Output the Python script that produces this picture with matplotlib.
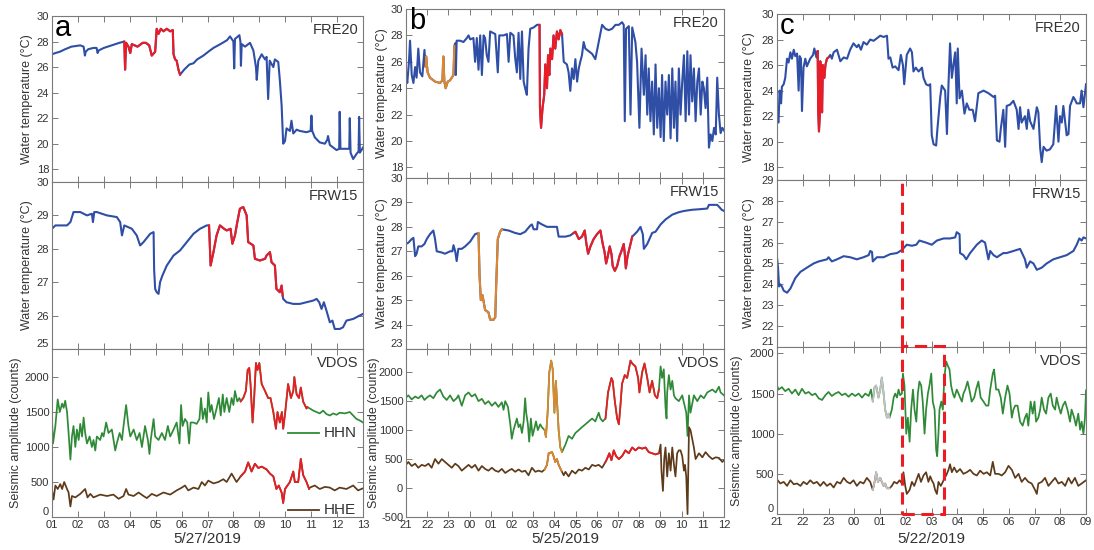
import matplotlib
matplotlib.use("Agg")
import matplotlib.pyplot as plt
import numpy as np
from matplotlib.patches import Rectangle

plt.rcParams['font.family'] = ['Liberation Sans', 'DejaVu Sans']

# ---------------- DATA ----------------
# Column a: hours of 5/27/2019
A_HOUR_LABELS = ["01", "02", "03", "04", "05", "06", "07", "08", "09", "10", "11", "12", "13"]
A_FRE20 = [(1.00, 27.0), (1.13, 27.1), (1.30, 27.2), (1.51, 27.4), (1.75, 27.6), (2.09, 27.7), (2.22, 27.6),
           (2.27, 26.9), (2.30, 27.2), (2.40, 27.4), (2.60, 27.5), (2.72, 27.5), (2.76, 27.1), (2.80, 27.3),
           (3.00, 27.5), (3.30, 27.7), (3.60, 27.9), (3.79, 28.0),
           (3.82, 25.8), (3.86, 27.9), (3.95, 27.6), (4.02, 27.1), (4.08, 27.8), (4.30, 27.6), (4.50, 27.9),
           (4.62, 27.9), (4.75, 27.7), (4.85, 26.9), (4.98, 27.2), (5.04, 29.0), (5.11, 28.6), (5.20, 29.0),
           (5.30, 28.8), (5.43, 29.0), (5.56, 28.8), (5.66, 28.9), (5.69, 27.0), (5.75, 26.6), (5.81, 26.5),
           (5.88, 25.8), (5.94, 25.4),
           (6.10, 25.8), (6.30, 26.2), (6.46, 26.3), (6.60, 26.6), (6.84, 26.9), (7.03, 27.2), (7.23, 27.5),
           (7.50, 27.8), (7.75, 28.1), (7.87, 28.4), (8.00, 28.0), (8.03, 25.9), (8.06, 28.2), (8.23, 28.5),
           (8.27, 28.0), (8.29, 26.1), (8.32, 27.8), (8.45, 27.6), (8.64, 27.9), (8.77, 27.3), (8.87, 26.0),
           (8.90, 25.0), (8.96, 26.5), (9.09, 27.0), (9.22, 26.6), (9.28, 26.8), (9.34, 23.5), (9.40, 26.5),
           (9.54, 26.0), (9.60, 26.6), (9.73, 26.4), (9.79, 25.0), (9.86, 23.0), (9.92, 20.0), (9.99, 20.2),
           (10.05, 21.2), (10.18, 21.0), (10.24, 21.8), (10.31, 20.8), (10.44, 21.1), (10.56, 21.0),
           (10.82, 20.9), (10.98, 21.0), (11.01, 22.2), (11.04, 21.0), (11.14, 20.5), (11.33, 20.1),
           (11.53, 20.0), (11.62, 20.3), (11.65, 20.6), (11.72, 19.9), (11.98, 19.5), (12.08, 19.6),
           (12.10, 22.5), (12.13, 19.6), (12.36, 19.6), (12.47, 19.6), (12.49, 22.0), (12.52, 19.3),
           (12.62, 18.8), (12.75, 19.2), (12.83, 19.4), (12.85, 22.1), (12.88, 19.3), (13.00, 19.7)]
A_FRE20_EVENTS = [(3.79, 5.94, "event")]

A_FRW15 = [(1.00, 28.6), (1.13, 28.7), (1.58, 28.7), (1.71, 28.8), (1.83, 29.1), (2.09, 29.1), (2.35, 29.0),
           (2.54, 29.05), (2.58, 28.8), (2.63, 29.1), (2.73, 29.1), (3.12, 29.0), (3.50, 28.95), (3.63, 28.8),
           (3.70, 28.4), (3.79, 28.7), (4.08, 28.6), (4.27, 28.4), (4.40, 28.1), (4.53, 28.2), (4.79, 28.45),
           (4.92, 28.5), (4.94, 27.4), (4.98, 26.8), (5.04, 26.7), (5.11, 26.65), (5.17, 27.0), (5.26, 27.2),
           (5.43, 27.5), (5.69, 27.8), (5.94, 27.95), (6.20, 28.2), (6.46, 28.45), (6.71, 28.6), (6.97, 28.7),
           (7.06, 28.7),
           (7.12, 27.5), (7.23, 27.9), (7.35, 28.4), (7.48, 28.7), (7.64, 28.6), (7.74, 28.55), (7.89, 28.6),
           (7.96, 28.15), (8.06, 28.4), (8.15, 28.8), (8.25, 29.2), (8.38, 29.25), (8.51, 29.0), (8.57, 28.2),
           (8.77, 28.1), (8.83, 27.7), (9.02, 27.65), (9.22, 27.7), (9.28, 27.8), (9.41, 27.9), (9.47, 27.6),
           (9.60, 27.5), (9.66, 26.8), (9.79, 26.7), (9.86, 26.9), (9.90, 26.6),
           (9.92, 26.5), (10.05, 26.4), (10.31, 26.35), (10.56, 26.35), (10.82, 26.4), (11.08, 26.45),
           (11.21, 26.5), (11.31, 26.4), (11.40, 26.2), (11.49, 26.4), (11.59, 26.15), (11.72, 25.8),
           (11.82, 25.85), (11.91, 25.6), (12.10, 25.6), (12.23, 25.65), (12.36, 25.85), (12.62, 25.9),
           (12.87, 26.0), (13.00, 26.05)]
A_FRW15_EVENTS = [(7.06, 9.90, "event")]

A_HHN = [(1.00, 1380), (1.04, 1050), (1.13, 1300), (1.22, 1680), (1.30, 1500), (1.39, 1620), (1.45, 1560),
         (1.51, 1660), (1.58, 1500), (1.64, 1200), (1.71, 820), (1.77, 1150), (1.83, 1300), (1.90, 1000),
         (1.96, 1250), (2.03, 1100), (2.09, 1330), (2.16, 1150), (2.22, 1420), (2.28, 1200), (2.35, 1050),
         (2.45, 1150), (2.54, 1000), (2.60, 1100), (2.67, 950), (2.73, 1150), (2.86, 1100), (2.93, 1200),
         (2.99, 1150), (3.09, 1350), (3.18, 1200), (3.31, 1250), (3.44, 950), (3.50, 1050), (3.61, 1200),
         (3.70, 1100), (3.76, 1300), (3.86, 1600), (3.95, 1300), (4.02, 1150), (4.15, 1250), (4.27, 1100),
         (4.38, 1200), (4.47, 1000), (4.59, 1300), (4.70, 1100), (4.76, 900), (4.81, 1100), (4.92, 1400),
         (4.98, 1150), (5.11, 1100), (5.24, 1200), (5.36, 1100), (5.47, 1300), (5.56, 1150), (5.69, 1250),
         (5.81, 1350), (5.92, 1050), (5.98, 1600), (6.04, 1300), (6.13, 1400), (6.22, 1350), (6.29, 1050),
         (6.35, 1350), (6.46, 1350), (6.58, 1330), (6.69, 1400), (6.75, 1700), (6.82, 1400), (6.90, 1550),
         (6.97, 1350), (7.03, 1780), (7.10, 1500), (7.16, 1600), (7.25, 1400), (7.35, 1550), (7.44, 1700),
         (7.51, 1450), (7.59, 1750), (7.65, 1500), (7.74, 1700), (7.84, 1500), (7.93, 1700), (8.00, 1600),
         (8.06, 1800), (8.15, 1650), (8.23, 1700), (8.28, 1650),
         (8.38, 1700), (8.48, 1800), (8.55, 2100), (8.61, 2130), (8.66, 1900), (8.74, 1350), (8.80, 1700),
         (8.87, 2200), (8.93, 2100), (9.00, 2200), (9.09, 1900), (9.22, 1800), (9.34, 1700), (9.43, 1700),
         (9.54, 1500), (9.64, 1260), (9.70, 1500), (9.79, 1350), (9.87, 1500), (9.92, 1260), (10.00, 1500),
         (10.11, 1900), (10.22, 1700), (10.31, 1800), (10.35, 2000), (10.44, 1750), (10.53, 1700),
         (10.60, 1850), (10.69, 1650), (10.82, 1550), (10.85, 1570),
         (10.95, 1550), (11.08, 1520), (11.21, 1500), (11.33, 1480), (11.46, 1520), (11.59, 1470),
         (11.72, 1450), (11.85, 1480), (11.98, 1460), (12.10, 1490), (12.30, 1480), (12.49, 1500),
         (12.62, 1450), (12.75, 1400), (12.87, 1380), (13.00, 1350)]
A_HHN_EVENTS = [(8.28, 10.85, "event")]

A_HHE = [(1.00, 380), (1.06, 250), (1.13, 450), (1.22, 400), (1.32, 470), (1.39, 400), (1.47, 500), (1.58, 400),
         (1.64, 350), (1.71, 150), (1.77, 300), (1.90, 280), (2.09, 330), (2.28, 400), (2.37, 280), (2.48, 330),
         (2.60, 280), (2.86, 320), (3.12, 300), (3.37, 320), (3.57, 260), (3.76, 300), (3.86, 400), (3.95, 320),
         (4.15, 300), (4.34, 350), (4.53, 300), (4.66, 270), (4.85, 330), (5.04, 300), (5.30, 350), (5.56, 320),
         (5.81, 380), (6.01, 420), (6.13, 450), (6.26, 380), (6.46, 420), (6.65, 400), (6.78, 500), (6.90, 450),
         (7.03, 520), (7.23, 480), (7.42, 500), (7.61, 540), (7.74, 500), (7.93, 620), (8.12, 500), (8.28, 580),
         (8.45, 650), (8.57, 780), (8.70, 650), (8.83, 760), (8.96, 700), (9.09, 720), (9.28, 680), (9.41, 620),
         (9.54, 580), (9.66, 400), (9.75, 450), (9.86, 350), (9.92, 200), (9.99, 400), (10.18, 500),
         (10.31, 650), (10.37, 500), (10.50, 500), (10.60, 830), (10.69, 600), (10.82, 500), (10.92, 400),
         (10.95, 420), (11.14, 450), (11.33, 400), (11.53, 430), (11.72, 420), (11.91, 380), (12.10, 420),
         (12.36, 400), (12.62, 450), (12.81, 380), (13.00, 410)]
A_HHE_EVENTS = [(8.28, 10.92, "event")]

# Column b: hours after 21:00 on 5/24/2019
B_HOUR_LABELS = ["21", "22", "23", "00", "01", "02", "03", "04", "05", "06", "07", "08", "09", "10", "11", "12"]
B_FRE20 = [(0.00, 25.0), (0.06, 24.4), (0.14, 26.0), (0.19, 27.6), (0.27, 25.0), (0.35, 24.4), (0.43, 25.6),
           (0.50, 24.8), (0.58, 27.0), (0.66, 25.2), (0.77, 24.9), (0.87, 26.9), (0.93, 25.6),
           (0.95, 26.4), (1.02, 25.2), (1.13, 24.8), (1.37, 24.5), (1.61, 24.4), (1.72, 24.6), (1.76, 26.4),
           (1.81, 24.5), (1.87, 24.0), (1.97, 24.5), (2.08, 24.6), (2.24, 25.0), (2.28, 27.2),
           (2.32, 27.4), (2.35, 25.0), (2.39, 27.6), (2.55, 27.6), (2.71, 27.5), (2.87, 27.8), (2.95, 28.0),
           (3.03, 27.7), (3.18, 27.8), (3.26, 26.0), (3.34, 27.8), (3.42, 25.4), (3.50, 28.0), (3.58, 25.0),
           (3.66, 28.0), (3.73, 27.8), (3.81, 26.5), (3.89, 26.0), (3.97, 28.3), (4.21, 28.1), (4.33, 25.2),
           (4.40, 28.0), (4.60, 28.0), (4.76, 28.1), (4.84, 26.0), (4.92, 28.2), (5.07, 28.0), (5.15, 26.3),
           (5.23, 25.2), (5.31, 28.2), (5.39, 24.7), (5.47, 28.3), (5.55, 24.5), (5.62, 24.0), (5.70, 23.5),
           (5.78, 27.0), (5.86, 28.5), (6.02, 28.6), (6.18, 28.8), (6.30, 28.8),
           (6.32, 22.5), (6.37, 21.0), (6.44, 22.5), (6.52, 23.5), (6.57, 25.8), (6.65, 24.0), (6.70, 26.5),
           (6.76, 25.0), (6.81, 27.0), (6.89, 26.2), (6.96, 28.0), (7.04, 27.0), (7.12, 28.3), (7.20, 27.7),
           (7.28, 28.4), (7.36, 28.1),
           (7.44, 26.0), (7.59, 25.8), (7.67, 25.2), (7.75, 23.8), (7.83, 25.5), (7.91, 24.7), (7.99, 26.2),
           (8.07, 24.5), (8.15, 25.5), (8.22, 26.0), (8.30, 26.5), (8.38, 27.5), (8.46, 27.0), (8.62, 26.8),
           (8.78, 26.6), (8.93, 26.2), (9.09, 27.5), (9.25, 28.8), (9.41, 28.5), (9.56, 28.4), (9.72, 28.5),
           (9.88, 28.8), (10.04, 28.8), (10.19, 29.0), (10.27, 28.8), (10.32, 21.5), (10.38, 28.5),
           (10.51, 28.7), (10.59, 22.0), (10.67, 28.6), (10.82, 27.5), (10.90, 26.0), (11.01, 21.0),
           (11.11, 27.0), (11.22, 23.5), (11.30, 26.5), (11.38, 22.0), (11.45, 25.5), (11.53, 21.5),
           (11.61, 24.5), (11.69, 20.5), (11.77, 25.8), (11.85, 21.0), (11.93, 24.0), (12.01, 20.3),
           (12.08, 25.0), (12.16, 20.0), (12.24, 24.5), (12.32, 22.0), (12.40, 25.0), (12.48, 20.2),
           (12.56, 25.5), (12.64, 21.0), (12.71, 24.5), (12.79, 20.0), (12.87, 25.5), (12.95, 22.0),
           (13.03, 24.5), (13.11, 26.5), (13.19, 21.5), (13.27, 26.8), (13.35, 22.0), (13.42, 26.5),
           (13.50, 23.0), (13.58, 25.5), (13.66, 21.5), (13.74, 24.5), (13.82, 25.5), (13.90, 22.0),
           (13.98, 24.5), (14.05, 24.0), (14.13, 22.5), (14.21, 24.8), (14.29, 19.5), (14.37, 20.5),
           (14.45, 20.0), (14.53, 21.0), (14.61, 20.5), (14.68, 24.8), (14.76, 22.0), (14.84, 20.6),
           (14.92, 21.0), (15.00, 20.8)]
B_FRE20_EVENTS = [(0.93, 2.28, "event2"), (6.30, 7.36, "event")]

B_FRW15 = [(0.00, 27.3), (0.11, 27.35), (0.27, 27.5), (0.35, 27.55), (0.43, 26.8), (0.50, 26.9), (0.58, 27.2),
           (0.74, 27.2), (0.87, 27.3), (0.98, 27.5), (1.13, 27.7), (1.29, 27.85), (1.37, 27.5), (1.45, 27.0),
           (1.69, 26.95), (1.84, 26.9), (2.08, 27.0), (2.19, 27.0), (2.24, 27.25), (2.32, 27.0), (2.39, 26.6),
           (2.47, 27.1), (2.63, 27.1), (2.79, 27.2), (3.03, 27.4), (3.18, 27.6), (3.26, 27.7), (3.42, 27.75),
           (3.47, 26.0), (3.53, 25.0), (3.61, 25.2), (3.67, 24.9), (3.73, 24.6), (3.89, 24.5), (3.97, 24.2),
           (4.13, 24.2), (4.21, 24.3), (4.25, 25.5), (4.33, 27.5), (4.44, 27.8), (4.52, 27.9),
           (4.84, 27.85), (5.15, 27.75), (5.39, 27.7), (5.62, 27.8), (5.86, 28.05), (5.94, 28.1), (6.02, 27.9),
           (6.18, 27.9), (6.22, 28.2), (6.41, 28.1), (6.65, 28.0), (7.12, 28.0), (7.20, 27.6), (7.52, 27.6),
           (7.75, 27.65), (7.91, 27.75),
           (7.99, 27.8), (8.15, 27.5), (8.30, 27.6), (8.43, 27.85), (8.51, 27.3), (8.59, 26.9), (8.70, 27.2),
           (8.85, 27.5), (9.01, 27.7), (9.17, 27.85), (9.28, 27.3), (9.36, 27.0), (9.44, 26.5), (9.52, 26.8),
           (9.61, 27.2), (9.69, 26.9), (9.75, 26.4), (9.85, 26.2), (9.96, 26.4), (10.07, 26.8), (10.16, 27.0),
           (10.27, 27.3), (10.32, 26.9), (10.37, 26.3), (10.45, 26.8), (10.59, 27.3), (10.67, 27.6),
           (10.90, 27.8), (11.06, 28.0), (11.17, 27.7), (11.22, 27.1), (11.38, 27.3), (11.61, 27.75),
           (11.77, 27.8), (12.01, 28.1), (12.24, 28.3), (12.56, 28.5), (12.87, 28.6), (13.11, 28.65),
           (13.50, 28.7), (13.82, 28.72), (14.21, 28.75), (14.29, 28.9), (14.68, 28.9), (14.79, 28.8),
           (14.89, 28.7), (15.00, 28.65)]
B_FRW15_EVENTS = [(3.42, 4.52, "event2"), (7.91, 10.67, "event")]

B_HHN = [(0.00, 1560), (0.11, 1600), (0.27, 1530), (0.43, 1580), (0.58, 1550), (0.74, 1600), (0.87, 1520),
         (0.98, 1560), (1.13, 1600), (1.29, 1550), (1.45, 1650), (1.61, 1700), (1.76, 1580), (1.92, 1520),
         (2.08, 1600), (2.24, 1500), (2.39, 1550), (2.47, 1600), (2.63, 1420), (2.79, 1600), (2.95, 1650),
         (3.10, 1580), (3.26, 1620), (3.42, 1500), (3.58, 1540), (3.73, 1450), (3.89, 1500), (4.05, 1420),
         (4.21, 1480), (4.36, 1400), (4.52, 1480), (4.60, 1350), (4.68, 1500), (4.81, 1400), (4.92, 1100),
         (4.99, 850), (5.07, 1000), (5.15, 1100), (5.23, 1200), (5.31, 1050), (5.39, 1100), (5.47, 950),
         (5.55, 1150), (5.62, 1550), (5.67, 1300), (5.75, 1100), (5.81, 800), (5.89, 1200), (5.97, 900),
         (6.07, 1050), (6.13, 1150), (6.22, 1000), (6.33, 1100), (6.41, 1050), (6.54, 1000),
         (6.60, 880), (6.68, 1300), (6.76, 2000), (6.85, 2200), (6.92, 2050), (7.00, 1300), (7.07, 1850),
         (7.14, 1400), (7.20, 1000), (7.28, 700), (7.36, 620),
         (7.52, 750), (7.67, 900), (7.83, 850), (7.99, 950), (8.15, 1000), (8.30, 1050), (8.46, 1100),
         (8.62, 1150), (8.78, 1200), (8.93, 1150), (9.09, 1300), (9.17, 1200), (9.28, 1150), (9.41, 1200),
         (9.53, 1650), (9.69, 1900), (9.75, 1850), (9.85, 1500), (9.96, 1200), (10.04, 1100), (10.11, 1400),
         (10.19, 1800), (10.32, 1950), (10.43, 1900), (10.59, 2200), (10.67, 2150), (10.82, 2100),
         (10.95, 1900), (11.01, 1650), (11.14, 2000), (11.25, 2150), (11.38, 1900), (11.49, 1650),
         (11.61, 1850), (11.74, 1600), (11.85, 1550), (11.93, 1700),
         (12.01, 2100), (12.08, 1900), (12.16, 2050), (12.24, 1400), (12.29, 1200), (12.32, 1650),
         (12.40, 1950), (12.48, 1700), (12.56, 1850), (12.64, 1600), (12.71, 1550), (12.87, 1500),
         (13.03, 1600), (13.16, 1400), (13.22, 1300), (13.28, 900), (13.35, 1600), (13.42, 1300),
         (13.58, 1600), (13.74, 1500), (13.90, 1600), (14.05, 1550), (14.21, 1650), (14.45, 1700),
         (14.61, 1650), (14.76, 1750), (14.84, 1650), (15.00, 1600)]
B_HHN_EVENTS = [(6.54, 7.36, "event2"), (9.41, 11.93, "event")]

B_HHE = [(0.00, 400), (0.11, 450), (0.27, 380), (0.43, 420), (0.58, 350), (0.74, 400), (0.90, 380), (1.06, 420),
         (1.21, 350), (1.37, 500), (1.53, 420), (1.69, 500), (1.84, 450), (2.00, 400), (2.16, 350), (2.32, 420),
         (2.47, 380), (2.63, 300), (2.79, 350), (2.95, 400), (3.10, 350), (3.26, 400), (3.42, 300), (3.58, 380),
         (3.73, 330), (3.89, 300), (4.05, 350), (4.21, 300), (4.36, 280), (4.52, 330), (4.68, 260), (4.84, 300),
         (4.99, 330), (5.15, 280), (5.31, 320), (5.47, 280), (5.62, 300), (5.78, 220), (5.94, 350), (6.10, 280),
         (6.25, 300), (6.41, 280), (6.54, 320),
         (6.65, 400), (6.73, 600), (6.89, 620), (6.96, 550), (7.04, 450), (7.12, 500), (7.20, 400), (7.33, 300),
         (7.44, 220), (7.52, 280), (7.67, 200), (7.83, 300), (7.99, 250), (8.15, 320), (8.30, 300), (8.46, 350),
         (8.62, 320), (8.78, 400), (8.93, 380), (9.09, 400), (9.25, 350), (9.41, 450),
         (9.48, 500), (9.59, 600), (9.69, 480), (9.80, 650), (9.91, 550), (10.04, 500), (10.19, 550),
         (10.35, 650), (10.51, 600), (10.67, 700), (10.82, 650), (10.98, 700), (11.14, 680), (11.30, 700),
         (11.45, 620), (11.61, 600), (11.77, 580), (11.93, 600),
         (12.01, 750), (12.05, 300), (12.12, -50), (12.18, 500), (12.24, 700), (12.32, 200), (12.40, 600),
         (12.48, 300), (12.56, 700), (12.64, 400), (12.71, 200), (12.79, 600), (12.87, 650), (12.95, 650),
         (13.03, 550), (13.11, 300), (13.16, 400), (13.22, 200), (13.28, -450), (13.35, 1050), (13.42, 1000),
         (13.58, 700), (13.66, 500), (13.82, 600), (13.98, 530), (14.13, 620), (14.29, 550), (14.45, 500),
         (14.61, 530), (14.76, 520), (14.92, 450), (15.00, 480)]
B_HHE_EVENTS = [(6.54, 7.33, "event2"), (9.41, 11.93, "event")]

# Column c: hours after 21:00 on 5/21/2019
C_HOUR_LABELS = ["21", "22", "23", "00", "01", "02", "03", "04", "05", "06", "07", "08", "09"]
C_FRE20 = [(0.00, 21.7), (0.06, 21.5), (0.10, 24.0), (0.16, 23.0), (0.19, 24.3), (0.26, 24.5), (0.32, 25.0),
           (0.39, 26.5), (0.45, 26.2), (0.52, 27.0), (0.58, 26.5), (0.65, 27.2), (0.71, 26.7), (0.78, 26.9),
           (0.84, 24.0), (0.88, 26.7), (0.93, 26.5), (0.97, 22.4), (1.03, 25.8), (1.10, 26.5), (1.16, 25.9),
           (1.29, 26.5), (1.40, 26.8), (1.45, 27.3), (1.53, 26.6), (1.58, 27.1),
           (1.60, 22.5), (1.63, 20.8), (1.66, 22.0), (1.68, 26.3), (1.72, 25.0), (1.75, 22.3), (1.78, 26.0),
           (1.84, 25.0), (1.88, 26.0), (1.94, 26.5), (2.00, 26.6),
           (2.07, 26.8), (2.13, 26.5), (2.20, 27.0), (2.33, 27.2), (2.46, 26.3), (2.59, 26.6), (2.72, 26.5),
           (2.84, 27.2), (2.97, 27.7), (3.10, 27.4), (3.17, 27.6), (3.26, 27.2), (3.36, 27.8), (3.49, 27.6),
           (3.62, 28.0), (3.75, 27.9), (3.88, 28.1), (4.01, 28.3), (4.14, 28.2), (4.27, 28.3), (4.33, 26.5),
           (4.40, 26.6), (4.49, 25.8), (4.59, 25.9), (4.72, 25.6), (4.81, 26.8), (4.89, 26.0), (4.94, 24.5),
           (5.04, 26.8), (5.17, 27.3), (5.24, 27.0), (5.30, 25.5), (5.39, 25.8), (5.50, 25.5), (5.63, 25.8),
           (5.69, 25.0), (5.79, 24.5), (5.88, 24.4), (5.95, 24.5), (6.01, 20.5), (6.08, 19.8), (6.18, 19.7),
           (6.23, 21.0), (6.34, 23.5), (6.40, 24.4), (6.53, 24.0), (6.60, 20.6), (6.66, 24.5), (6.72, 27.7),
           (6.79, 25.0), (6.85, 26.0), (6.92, 27.0), (6.98, 23.0), (7.02, 27.3), (7.09, 23.4), (7.18, 24.0),
           (7.28, 22.2), (7.37, 23.0), (7.47, 22.5), (7.60, 22.5), (7.69, 21.6), (7.82, 23.8), (8.02, 24.0),
           (8.21, 23.8), (8.41, 23.5), (8.47, 23.6), (8.54, 20.1), (8.64, 20.0), (8.69, 21.0), (8.79, 22.5),
           (8.86, 19.6), (8.92, 22.8), (9.05, 22.9), (9.18, 23.2), (9.31, 22.5), (9.38, 21.0), (9.44, 22.7),
           (9.50, 21.5), (9.63, 22.0), (9.70, 21.0), (9.76, 22.5), (9.83, 21.6), (9.96, 21.0), (10.09, 22.7),
           (10.15, 22.3), (10.22, 19.5), (10.28, 18.4), (10.35, 19.6), (10.47, 19.3), (10.60, 19.4),
           (10.73, 19.8), (10.84, 22.8), (10.93, 20.0), (10.99, 22.0), (11.06, 21.5), (11.12, 22.8),
           (11.25, 20.5), (11.32, 20.6), (11.38, 22.8), (11.51, 23.5), (11.57, 23.3), (11.64, 23.0),
           (11.77, 23.0), (11.83, 24.0), (11.90, 22.7), (12.00, 24.5)]
C_FRE20_EVENTS = [(1.58, 2.00, "event")]

C_FRW15 = [(0.00, 25.3), (0.04, 24.8), (0.08, 23.9), (0.13, 24.0), (0.19, 23.9), (0.26, 23.7), (0.39, 23.6),
           (0.52, 23.8), (0.71, 24.3), (0.91, 24.6), (1.16, 24.8), (1.42, 25.0), (1.62, 25.1), (1.94, 25.2),
           (2.00, 25.3), (2.13, 25.1), (2.33, 25.2), (2.59, 25.35), (2.84, 25.3), (3.10, 25.2), (3.36, 25.3),
           (3.56, 25.4), (3.62, 25.6), (3.69, 25.55), (3.72, 25.1), (3.88, 25.3), (4.14, 25.3), (4.40, 25.45),
           (4.66, 25.5), (4.85, 25.65), (5.04, 25.9), (5.24, 25.85), (5.41, 25.9), (5.53, 26.1), (5.79, 26.0),
           (6.01, 25.9), (6.21, 26.1), (6.47, 26.2), (6.72, 26.2), (6.92, 26.25), (6.98, 26.5), (7.09, 26.4),
           (7.11, 25.5), (7.24, 25.4), (7.35, 25.2), (7.50, 25.5), (7.76, 25.9), (7.95, 26.1), (8.08, 26.0),
           (8.21, 25.2), (8.28, 25.6), (8.41, 25.4), (8.54, 25.3), (8.66, 25.4), (8.79, 25.5), (8.92, 25.5),
           (9.18, 25.6), (9.44, 25.7), (9.63, 25.2), (9.70, 24.8), (9.83, 25.1), (9.96, 25.0), (10.09, 24.7),
           (10.28, 24.8), (10.47, 25.0), (10.73, 25.2), (10.99, 25.3), (11.25, 25.4), (11.51, 25.6),
           (11.64, 25.9), (11.74, 26.2), (11.83, 26.1), (11.90, 26.25), (12.00, 26.2)]
C_FRW15_EVENTS = []

C_HHN = [(0.00, 1600), (0.06, 1550), (0.19, 1580), (0.32, 1530), (0.45, 1560), (0.58, 1500), (0.71, 1550),
         (0.84, 1480), (0.97, 1560), (1.10, 1500), (1.23, 1520), (1.36, 1480), (1.49, 1500), (1.62, 1440),
         (1.75, 1420), (1.88, 1480), (2.00, 1520), (2.13, 1470), (2.26, 1500), (2.39, 1520), (2.52, 1480),
         (2.65, 1500), (2.78, 1460), (2.91, 1500), (3.04, 1470), (3.17, 1500), (3.30, 1450), (3.43, 1500),
         (3.56, 1470), (3.65, 1550), (3.72, 1400),
         (3.79, 1580), (3.85, 1600), (3.94, 1450), (4.01, 1550), (4.07, 1700), (4.14, 1500), (4.20, 1300),
         (4.27, 1200), (4.33, 1250), (4.37, 1200),
         (4.46, 1300), (4.53, 1450), (4.59, 1500), (4.66, 1450), (4.72, 1550), (4.78, 1480), (4.85, 1500),
         (4.89, 1750), (4.95, 1600), (5.02, 1000), (5.08, 1200), (5.15, 900), (5.21, 1300), (5.28, 1550),
         (5.34, 1300), (5.41, 1150), (5.47, 1500), (5.53, 1650), (5.60, 1600), (5.66, 1400), (5.73, 1000),
         (5.79, 1300), (5.86, 1500), (5.92, 1600), (5.99, 1750), (6.05, 1400), (6.12, 1300), (6.18, 800),
         (6.22, 720), (6.27, 1000), (6.31, 1300), (6.38, 1400), (6.44, 1300), (6.50, 1700), (6.57, 1900),
         (6.63, 1850), (6.70, 1800), (6.76, 1600), (6.83, 1500), (6.89, 1450), (6.98, 1550), (7.05, 1500),
         (7.11, 1450), (7.18, 1400), (7.24, 1500), (7.31, 1550), (7.40, 1650), (7.47, 1550), (7.56, 1400),
         (7.66, 1450), (7.73, 1550), (7.82, 1650), (7.91, 1450), (8.02, 1400), (8.12, 1350), (8.21, 1350),
         (8.28, 1550), (8.38, 1750), (8.43, 1800), (8.51, 1550), (8.60, 1550), (8.69, 1450), (8.77, 1250),
         (8.86, 1450), (8.95, 1600), (9.03, 1500), (9.12, 1200), (9.18, 1300), (9.25, 1350), (9.34, 1350),
         (9.44, 1150), (9.54, 1100), (9.63, 1200), (9.70, 1250), (9.76, 1100), (9.85, 1400), (9.93, 1250),
         (10.00, 1400), (10.06, 1150), (10.15, 1200), (10.22, 1300), (10.28, 1450), (10.37, 1300),
         (10.45, 1250), (10.54, 1450), (10.63, 1500), (10.71, 1350), (10.80, 1300), (10.86, 1450),
         (10.93, 1350), (11.02, 1250), (11.10, 1350), (11.19, 1400), (11.28, 1300), (11.38, 1150),
         (11.44, 1300), (11.54, 1200), (11.61, 1100), (11.70, 1250), (11.77, 1050), (11.83, 1150),
         (11.90, 1000), (11.96, 1200), (12.00, 1540)]
C_HHN_EVENTS = [(3.72, 4.37, "gap")]

C_HHE = [(0.00, 430), (0.13, 380), (0.26, 400), (0.39, 350), (0.52, 420), (0.65, 370), (0.78, 380), (0.91, 350),
         (1.03, 400), (1.16, 370), (1.29, 420), (1.42, 380), (1.55, 400), (1.68, 350), (1.81, 400), (1.94, 350),
         (2.07, 380), (2.20, 330), (2.33, 400), (2.46, 380), (2.59, 450), (2.72, 400), (2.84, 380), (2.97, 420),
         (3.10, 350), (3.23, 400), (3.36, 380), (3.49, 450), (3.62, 400), (3.72, 300),
         (3.79, 400), (3.85, 520), (3.92, 400), (4.01, 450), (4.07, 400), (4.14, 350), (4.20, 380), (4.27, 320),
         (4.37, 320),
         (4.46, 350), (4.55, 400), (4.66, 380), (4.76, 420), (4.85, 380), (4.91, 520), (4.98, 350), (5.04, 250),
         (5.15, 300), (5.24, 400), (5.33, 350), (5.41, 420), (5.50, 500), (5.59, 400), (5.69, 480), (5.79, 520),
         (5.88, 400), (5.95, 470), (6.01, 420), (6.08, 380), (6.14, 300), (6.21, 250), (6.27, 400), (6.36, 350),
         (6.44, 400), (6.50, 450), (6.57, 480), (6.66, 550), (6.72, 620), (6.79, 520), (6.88, 580), (6.98, 520),
         (7.11, 560), (7.24, 500), (7.37, 520), (7.50, 550), (7.63, 500), (7.76, 480), (7.89, 540), (8.02, 500),
         (8.15, 520), (8.28, 480), (8.38, 650), (8.47, 500), (8.60, 500), (8.73, 480), (8.86, 520), (8.99, 600),
         (9.12, 550), (9.25, 450), (9.38, 500), (9.50, 400), (9.63, 450), (9.76, 400), (9.89, 380), (10.02, 300),
         (10.09, 250), (10.15, 380), (10.28, 400), (10.41, 450), (10.54, 350), (10.67, 400), (10.80, 450),
         (10.93, 380), (11.06, 400), (11.19, 350), (11.32, 450), (11.44, 380), (11.57, 450), (11.70, 350),
         (11.83, 380), (12.00, 420)]
C_HHE_EVENTS = [(3.72, 4.37, "gap")]

C_WINDOW = (4.87, 6.50)   # dashed highlight window (hours after 21:00)

DATE_LABELS = ["5/27/2019", "5/25/2019", "5/22/2019"]
PANEL_LETTERS = ["a", "b", "c"]
STATIONS = ["FRE20", "FRW15", "VDOS"]
YLABEL_T = "Water temperature (°C)"
YLABEL_S = "Seismic amplitude (counts)"

# ---------------- STYLE ----------------
BLUE = "#2f4fa6"
RED = "#ec1c24"
ORANGE = "#e0862c"
GREEN = "#2f8a37"
BROWN = "#5d3a1a"
GREY = "#c3c3c3"
EVENT_COLORS = {"event": RED, "event2": ORANGE, "gap": GREY}
SPINE = "#7a7a7a"
TXT = "#333333"
LW = 1.5

W, H = 1094, 550
fig = plt.figure(figsize=(W / 100, H / 100), dpi=100)


def add_ax(left, right, top, bottom):
    return fig.add_axes([left / W, 1 - bottom / H, (right - left) / W, (bottom - top) / H])


def draw(ax, pairs, base, events, lw=LW):
    t = np.array([p[0] for p in pairs])
    v = np.array([p[1] for p in pairs])
    ax.plot(t, v, color=base, lw=lw, solid_joinstyle='round')
    for t0, t1, kind in events:
        m = (t >= t0 - 1e-9) & (t <= t1 + 1e-9)
        ax.plot(t[m], v[m], color=EVENT_COLORS[kind], lw=lw, solid_joinstyle='round')


def style(ax, show_x):
    for s in ax.spines.values():
        s.set_color(SPINE)
        s.set_linewidth(0.8)
    ax.tick_params(direction='in', top=True, right=True, length=4, width=0.7,
                   color=SPINE, labelcolor=TXT, labelsize=8, pad=2)
    if not show_x:
        ax.tick_params(labelbottom=False)


cols = [
    dict(l=52, r=363, rows=[(16, 182), (182, 349), (349, 517)], x0=1, x1=13, labels=A_HOUR_LABELS,
         temp=[(A_FRE20, A_FRE20_EVENTS, (17, 30), np.arange(18, 31, 2)),
               (A_FRW15, A_FRW15_EVENTS, (25, 30), np.arange(25, 31, 1))],
         seis=(A_HHN, A_HHN_EVENTS, A_HHE, A_HHE_EVENTS, (0, 2400), [0, 500, 1000, 1500, 2000]),
         ylp=(0.061, 0.096)),
    dict(l=406, r=724, rows=[(9, 178), (178, 349), (349, 517)], x0=0, x1=15, labels=B_HOUR_LABELS,
         temp=[(B_FRE20, B_FRE20_EVENTS, (17.2, 30), np.arange(18, 31, 2)),
               (B_FRW15, B_FRW15_EVENTS, (23, 30), np.arange(23, 31, 1))],
         seis=(B_HHN, B_HHN_EVENTS, B_HHE, B_HHE_EVENTS, (-500, 2400), [-500, 0, 500, 1000, 1500, 2000]),
         ylp=(0.057, 0.082)),
    dict(l=777, r=1086, rows=[(14, 180), (180, 347), (347, 514)], x0=0, x1=12, labels=C_HOUR_LABELS,
         temp=[(C_FRE20, C_FRE20_EVENTS, (17, 30), np.arange(18, 31, 2)),
               (C_FRW15, C_FRW15_EVENTS, (21, 29), np.arange(21, 30, 1))],
         seis=(C_HHN, C_HHN_EVENTS, C_HHE, C_HHE_EVENTS, (0, 2080), [0, 500, 1000, 1500, 2000]),
         ylp=(0.071, 0.11)),
]

axes_store = []
for ci, c in enumerate(cols):
    col_axes = []
    for ri, (top, bot) in enumerate(c["rows"]):
        ax = add_ax(c["l"], c["r"], top, bot)
        ticks = np.arange(c["x0"], c["x1"] + 1)
        ax.set_xticks(ticks)
        ax.set_xticklabels(c["labels"])
        if ri < 2:
            pairs, ev, ylim, yt = c["temp"][ri]
            draw(ax, pairs, BLUE, ev)
            ax.set_ylim(*ylim)
            ax.set_yticks(yt)
            ax.set_yticklabels([str(v) for v in yt])
            ax.set_ylabel(YLABEL_T, fontsize=9, color=TXT)
            ax.yaxis.set_label_coords(-c["ylp"][0], 0.5)
        else:
            hhn, hhn_ev, hhe, hhe_ev, ylim, yt = c["seis"]
            draw(ax, hhn, GREEN, hhn_ev, lw=1.25)
            draw(ax, hhe, BROWN, hhe_ev, lw=1.25)
            ax.set_ylim(*ylim)
            ax.set_yticks(yt)
            ax.set_yticklabels([str(v) for v in yt])
            ax.set_ylabel(YLABEL_S, fontsize=9, color=TXT)
            ax.yaxis.set_label_coords(-c["ylp"][1], 0.5)
        style(ax, ri == 2)
        ax.set_xlim(c["x0"], c["x1"])
        # a tick label sitting exactly on the lower edge rests on top of the axis line
        if yt[0] == ax.get_ylim()[0] and not (ri == 2 and yt[0] < 0):
            ax.get_yticklabels()[0].set_va('bottom')
        ax.annotate(STATIONS[ri], xy=(1, 1), xycoords='axes fraction', xytext=(-5, -7),
                    textcoords='offset pixels', ha='right', va='top', fontsize=10.5, color=TXT)
        col_axes.append(ax)
    col_axes[0].annotate(PANEL_LETTERS[ci], xy=(0, 1), xycoords='axes fraction', xytext=(3, 2),
                         textcoords='offset pixels', ha='left', va='top', fontsize=21, color='black')
    fig.text(((c["l"] + c["r"]) / 2) / W, 1 - 539 / H, DATE_LABELS[ci], ha='center', va='center',
             fontsize=11, color=TXT)
    axes_store.append(col_axes)

# legend-like labels in panel a
axa = axes_store[0][2]
axa.plot([10.09, 11.32], [1200, 1200], color=GREEN, lw=1.3)
axa.text(11.5, 1200, "HHN", fontsize=11, color=TXT, va='center', ha='left')
axa.plot([10.09, 11.32], [100, 100], color=BROWN, lw=1.3)
axa.text(11.5, 100, "HHE", fontsize=11, color=TXT, va='center', ha='left')

# dashed red window in column c
axm = axes_store[2][1]
axm.plot([C_WINDOW[0], C_WINDOW[0]], [21, 29], color=RED, lw=2.2, ls=(0, (4, 2.2)))
axs = axes_store[2][2]
rect = Rectangle((C_WINDOW[0], 0), C_WINDOW[1] - C_WINDOW[0], 2095, fill=False, edgecolor=RED,
                 lw=2.2, ls=(0, (4, 2.2)), clip_on=False, zorder=5)
axs.add_patch(rect)

fig.savefig("out.png", dpi=100)
